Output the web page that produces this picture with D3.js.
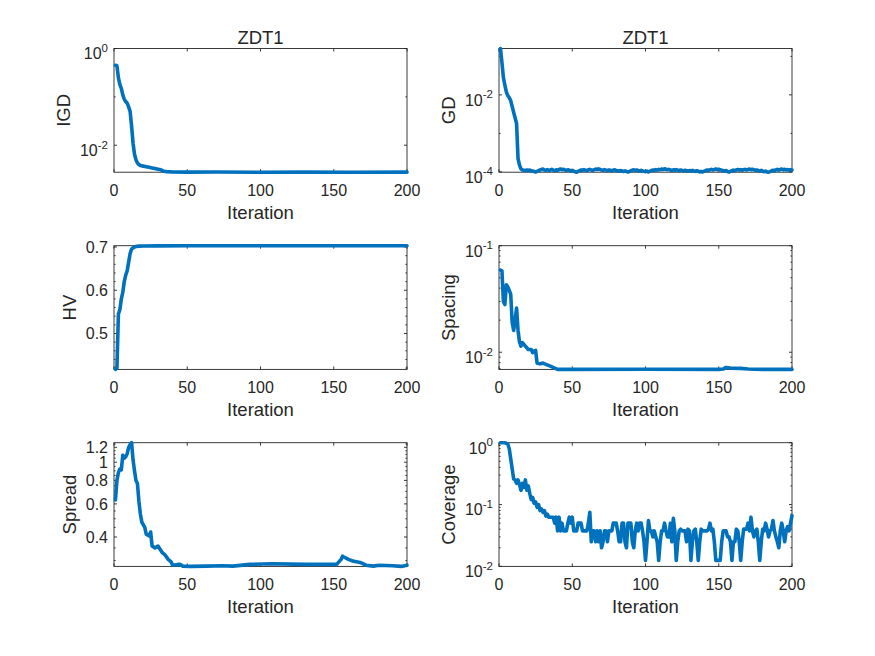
<!DOCTYPE html>
<html>
<head>
<meta charset="utf-8">
<script src="https://cdn.jsdelivr.net/npm/d3@7"></script>
<style>
body { margin: 0; background: #fff; }
text { font-family: "Liberation Sans", Arial, sans-serif; fill: #262626; }
</style>
</head>
<body>
<svg></svg>
<script>
// x axis (iterations)
var xTicks = [0, 50, 100, 150, 200];

// IGD
var igdX = [1, 2, 3, 4, 5, 6, 7, 8, 9, 10, 11, 12, 13, 14, 15, 16, 17, 18, 20, 22, 24, 26, 28, 30, 32, 34, 36, 40, 50, 70, 100, 130, 160, 200];
var igdY = [0.45, 0.44, 0.25, 0.18, 0.15, 0.11, 0.09, 0.08, 0.074, 0.062, 0.05, 0.025, 0.011, 0.0065, 0.005, 0.0043, 0.004, 0.0038, 0.0037, 0.0036, 0.0035, 0.0034, 0.0033, 0.0032, 0.0031, 0.0029, 0.00285, 0.0028, 0.00278, 0.00279, 0.00277, 0.00278, 0.00277, 0.00278];
var igdTicks = [1e-2, 1];
var igdMinor = [1e-1];

// GD, one value per iteration
var gdY = [0.16, 0.07, 0.028, 0.018, 0.012, 0.0095, 0.0085, 0.007, 0.005, 0.0035, 0.0025, 0.0018, 0.00022, 0.00015, 0.00012, 1.12e-4,
  1.10e-4, 1.08e-4, 1.12e-4, 1.09e-4, 1.11e-4, 1.07e-4, 1.05e-4, 1.02e-4, 0.99e-4, 1.03e-4,
  1.08e-4, 1.12e-4, 1.15e-4, 1.18e-4, 1.12e-4, 1.10e-4, 1.14e-4, 1.09e-4, 1.12e-4, 1.16e-4,
  1.11e-4, 1.08e-4, 1.13e-4, 1.10e-4, 1.15e-4, 1.19e-4, 1.14e-4, 1.17e-4, 1.12e-4, 1.09e-4,
  1.13e-4, 1.10e-4, 1.06e-4, 1.09e-4, 1.04e-4, 1.00e-4, 0.98e-4, 1.03e-4, 1.07e-4, 1.12e-4,
  1.10e-4, 1.14e-4, 1.11e-4, 1.08e-4, 1.13e-4, 1.16e-4, 1.12e-4, 1.09e-4, 1.14e-4, 1.18e-4,
  1.15e-4, 1.20e-4, 1.16e-4, 1.12e-4, 1.10e-4, 1.14e-4, 1.11e-4, 1.08e-4, 1.12e-4, 1.10e-4,
  1.06e-4, 1.10e-4, 1.13e-4, 1.09e-4, 1.07e-4, 1.04e-4, 1.08e-4, 1.05e-4, 1.02e-4, 1.06e-4,
  1.03e-4, 0.99e-4, 1.02e-4, 1.07e-4, 1.10e-4, 1.13e-4, 1.09e-4, 1.12e-4, 1.08e-4, 1.05e-4,
  1.09e-4, 1.06e-4, 1.03e-4, 1.01e-4, 1.05e-4, 0.99e-4, 1.04e-4, 1.08e-4, 1.12e-4, 1.10e-4,
  1.14e-4, 1.11e-4, 1.16e-4, 1.13e-4, 1.18e-4, 1.15e-4, 1.20e-4, 1.17e-4, 1.13e-4, 1.16e-4,
  1.12e-4, 1.09e-4, 1.13e-4, 1.10e-4, 1.14e-4, 1.11e-4, 1.08e-4, 1.12e-4, 1.09e-4, 1.06e-4,
  1.10e-4, 1.07e-4, 1.04e-4, 1.08e-4, 1.05e-4, 1.09e-4, 1.06e-4, 1.03e-4, 1.07e-4, 1.04e-4,
  1.00e-4, 1.03e-4, 0.99e-4, 1.04e-4, 1.08e-4, 1.12e-4, 1.09e-4, 1.13e-4, 1.16e-4, 1.12e-4,
  1.15e-4, 1.19e-4, 1.14e-4, 1.17e-4, 1.13e-4, 1.10e-4, 1.07e-4, 1.04e-4, 1.08e-4, 1.02e-4,
  0.99e-4, 1.03e-4, 1.07e-4, 1.11e-4, 1.08e-4, 1.12e-4, 1.15e-4, 1.11e-4, 1.14e-4, 1.10e-4,
  1.13e-4, 1.16e-4, 1.12e-4, 1.15e-4, 1.18e-4, 1.14e-4, 1.17e-4, 1.13e-4, 1.10e-4, 1.12e-4,
  1.08e-4, 1.05e-4, 1.09e-4, 1.04e-4, 1.01e-4, 1.05e-4, 0.99e-4, 0.98e-4, 1.02e-4, 1.06e-4,
  1.10e-4, 1.07e-4, 1.12e-4, 1.16e-4, 1.11e-4, 1.15e-4, 1.19e-4, 1.13e-4, 1.17e-4, 1.12e-4,
  1.15e-4, 1.10e-4, 1.14e-4, 1.12e-4];
var gdTicks = [1e-4, 1e-2];
var gdMinor = [1e-3, 1e-1];

// HV
var hvX = [1, 2, 3, 4, 5, 6, 7, 8, 9, 10, 11, 12, 13, 14, 15, 17, 20, 30, 50, 100, 150, 200];
var hvY = [0.417, 0.42, 0.545, 0.555, 0.58, 0.595, 0.62, 0.635, 0.645, 0.665, 0.685, 0.695, 0.698, 0.7, 0.701, 0.702, 0.7022, 0.7025, 0.7028, 0.703, 0.703, 0.703];
var hvTicks = [0.5, 0.6, 0.7];
var hvMinor = [0.42, 0.44, 0.46, 0.48, 0.52, 0.54, 0.56, 0.58, 0.62, 0.64, 0.66, 0.68];

// Spacing
var spacingX = [1, 2, 3, 4, 5, 6, 7, 8, 9, 10, 11, 12, 13, 14, 15, 16, 18, 20, 22, 23, 24, 25, 26, 28, 30, 32, 35, 38, 40, 50, 100, 150, 153, 155, 158, 165, 170, 180, 200];
var spacingY = [0.059, 0.058, 0.03, 0.028, 0.043, 0.041, 0.038, 0.035, 0.019, 0.016, 0.02, 0.026, 0.016, 0.0125, 0.0114, 0.0123, 0.0114, 0.0106, 0.0106, 0.0099, 0.0103, 0.0104, 0.0079, 0.0078, 0.0079, 0.0077, 0.0074, 0.0071, 0.0069, 0.0069, 0.00692, 0.0069, 0.00695, 0.0072, 0.0071, 0.00705, 0.00695, 0.0069, 0.0069];
var spacingTicks = [1e-2, 1e-1];
var spacingMinor = [0.007, 0.008, 0.009, 0.02, 0.03, 0.04, 0.05, 0.06, 0.07, 0.08, 0.09];

// Spread
var spreadX = [1, 2, 3, 4, 5, 6, 7, 8, 9, 10, 11, 12, 13, 14, 15, 16, 17, 18, 19, 21, 22, 24, 25, 26, 28, 30, 33, 35, 37, 39, 40, 43, 45, 47, 52, 63, 74, 81, 93, 108, 131, 152, 155, 156, 160, 163, 168, 172, 177, 181, 190, 196, 200];
var spreadY = [0.63, 0.8, 0.88, 0.92, 0.91, 1.09, 1.05, 1.07, 1.11, 1.2, 1.24, 1.27, 1.03, 0.9, 0.8, 0.77, 0.62, 0.53, 0.48, 0.45, 0.414, 0.405, 0.425, 0.358, 0.35, 0.358, 0.33, 0.32, 0.304, 0.295, 0.283, 0.285, 0.286, 0.28, 0.279, 0.28, 0.281, 0.28, 0.286, 0.288, 0.286, 0.286, 0.304, 0.316, 0.304, 0.298, 0.293, 0.283, 0.28, 0.283, 0.281, 0.279, 0.283];
var spreadTicks = [0.4, 0.6, 0.8, 1, 1.2];
var spreadMinor = [0.3, 0.35, 0.45, 0.5, 0.55, 0.65, 0.7, 0.75, 0.85, 0.9, 0.95, 1.05, 1.1, 1.15, 1.25];

// Coverage, one value per iteration
var coverageY = [1, 1, 1, 1, 0.975, 0.95, 0.8, 0.55, 0.38, 0.26,
  0.25, 0.22, 0.25, 0.21, 0.17, 0.22, 0.19, 0.25, 0.17, 0.2,
  0.15, 0.12, 0.13, 0.105, 0.11, 0.09, 0.1, 0.08, 0.085, 0.075,
  0.08, 0.065, 0.07, 0.0625, 0.0625, 0.0625, 0.0625, 0.05, 0.0625, 0.0375,
  0.0625, 0.0375, 0.05, 0.0375, 0.0375, 0.0375, 0.05, 0.0625, 0.05, 0.0625,
  0.0375, 0.0375, 0.0375, 0.05, 0.05, 0.05, 0.0375, 0.0375, 0.0375, 0.0375,
  0.05, 0.075, 0.025, 0.0375, 0.0375, 0.025, 0.0375, 0.025, 0.0375, 0.02,
  0.025, 0.0375, 0.0375, 0.025, 0.0375, 0.0375, 0.0375, 0.05, 0.05, 0.05,
  0.0375, 0.025, 0.025, 0.05, 0.05, 0.025, 0.02, 0.05, 0.05, 0.05,
  0.025, 0.02, 0.0375, 0.05, 0.0375, 0.05, 0.05, 0.0375, 0.025, 0.0125,
  0.025, 0.055, 0.0375, 0.0375, 0.03, 0.0375, 0.03, 0.025, 0.0125, 0.025,
  0.0375, 0.0375, 0.05, 0.0375, 0.03, 0.03, 0.05, 0.025, 0.06, 0.0375,
  0.0125, 0.025, 0.0375, 0.04, 0.0375, 0.0375, 0.0375, 0.025, 0.04, 0.0375,
  0.0125, 0.025, 0.0375, 0.04, 0.025, 0.0125, 0.025, 0.04, 0.0375, 0.0375,
  0.0375, 0.0375, 0.04, 0.05, 0.0375, 0.04, 0.025, 0.0125, 0.0125, 0.0125,
  0.0125, 0.025, 0.0375, 0.0375, 0.0375, 0.03, 0.03, 0.025, 0.0125, 0.025,
  0.025, 0.04, 0.0375, 0.025, 0.0125, 0.025, 0.04, 0.04, 0.04, 0.05,
  0.0375, 0.0625, 0.0375, 0.03, 0.0375, 0.04, 0.025, 0.0125, 0.025, 0.04,
  0.0375, 0.05, 0.04, 0.03, 0.0375, 0.04, 0.055, 0.0375, 0.03, 0.025,
  0.02, 0.0375, 0.05, 0.0375, 0.025, 0.0375, 0.044, 0.0375, 0.05, 0.066];
var coverageTicks = [1e-2, 1e-1, 1];
var coverageMinor = [0.02, 0.03, 0.04, 0.05, 0.06, 0.07, 0.08, 0.09, 0.2, 0.3, 0.4, 0.5, 0.6, 0.7, 0.8, 0.9];

function byIteration(values) {
    return values.map(function (v, i) { return [i + 1, v]; });
}
function zipXY(xs, ys) {
    return xs.map(function (x, i) { return [x, ys[i]]; });
}

var svgWidth = 875;
var svgHeight = 656;
var colLeft = [114, 499];
var rowTop = [48.5, 245.7, 442.7];
var plotW = 293;
var plotH = 123.7;
var lineColor = "#0072BD";
var axisColor = "#262626";

var svg = d3.select("svg")
    .attr("width", svgWidth)
    .attr("height", svgHeight);

var panels = [
    { col: 0, row: 0, title: "ZDT1", ylabel: "IGD", log: true, points: zipXY(igdX, igdY), ticks: igdTicks, minor: igdMinor, domain: [d3.min(igdY), 1] },
    { col: 1, row: 0, title: "ZDT1", ylabel: "GD", log: true, points: byIteration(gdY), ticks: gdTicks, minor: gdMinor },
    { col: 0, row: 1, ylabel: "HV", log: false, points: zipXY(hvX, hvY), ticks: hvTicks, minor: hvMinor },
    { col: 1, row: 1, ylabel: "Spacing", log: true, points: zipXY(spacingX, spacingY), ticks: spacingTicks, minor: spacingMinor, domain: [d3.min(spacingY), 0.1] },
    { col: 0, row: 2, ylabel: "Spread", log: true, points: zipXY(spreadX, spreadY), ticks: spreadTicks, minor: spreadMinor, plainLabels: true },
    { col: 1, row: 2, ylabel: "Coverage", log: true, points: byIteration(coverageY), ticks: coverageTicks, minor: coverageMinor, domain: [0.01, 1] }
];

panels.forEach(function (p) {
    var x0 = colLeft[p.col];
    var y0 = rowTop[p.row];
    var x1 = x0 + plotW;
    var y1 = y0 + plotH;

    var x = d3.scaleLinear().domain([0, 200]).range([x0, x1]);
    var dom = p.domain || d3.extent(p.points, function (d) { return d[1]; });
    var y = (p.log ? d3.scaleLog() : d3.scaleLinear()).domain(dom).range([y1, y0]);

    var g = svg.append("g");

    // box
    g.append("rect")
        .attr("x", x0).attr("y", y0)
        .attr("width", plotW).attr("height", plotH)
        .attr("fill", "none")
        .attr("stroke", axisColor)
        .attr("stroke-width", 0.9);

    // x ticks, bottom and top
    xTicks.forEach(function (t) {
        g.append("line").attr("x1", x(t)).attr("x2", x(t)).attr("y1", y1).attr("y2", y1 - 3)
            .attr("stroke", axisColor).attr("stroke-width", 0.9);
        g.append("line").attr("x1", x(t)).attr("x2", x(t)).attr("y1", y0).attr("y2", y0 + 3)
            .attr("stroke", axisColor).attr("stroke-width", 0.9);
        g.append("text")
            .attr("x", x(t)).attr("y", y1 + 24)
            .attr("text-anchor", "middle")
            .attr("font-size", 16)
            .text(t);
    });

    // y ticks, left and right
    function yTick(v, len) {
        g.append("line").attr("x1", x0).attr("x2", x0 + len).attr("y1", y(v)).attr("y2", y(v))
            .attr("stroke", axisColor).attr("stroke-width", 0.9);
        g.append("line").attr("x1", x1).attr("x2", x1 - len).attr("y1", y(v)).attr("y2", y(v))
            .attr("stroke", axisColor).attr("stroke-width", 0.9);
    }
    p.minor.forEach(function (v) { yTick(v, 1.6); });

    var labels = g.append("g");
    p.ticks.forEach(function (v) {
        yTick(v, 3);
        if (p.log && !p.plainLabels) {
            var t = labels.append("text")
                .attr("x", x0 - 6).attr("y", y(v) + 10.8)
                .attr("text-anchor", "end")
                .attr("font-size", 16);
            t.append("tspan").text("10");
            t.append("tspan").attr("font-size", 11.5).attr("dy", -7.5)
                .text(Math.round(Math.log10(v)));
        } else {
            labels.append("text")
                .attr("x", x0 - 6).attr("y", y(v))
                .attr("dy", "0.35em")
                .attr("text-anchor", "end")
                .attr("font-size", 16)
                .text(v);
        }
    });

    // data line
    g.append("path")
        .datum(p.points)
        .attr("fill", "none")
        .attr("stroke", lineColor)
        .attr("stroke-width", 3.6)
        .attr("stroke-linejoin", "round")
        .attr("stroke-linecap", "round")
        .attr("d", d3.line()
            .x(function (d) { return x(d[0]); })
            .y(function (d) { return y(d[1]); }));

    // labels
    g.append("text")
        .attr("x", (x0 + x1) / 2).attr("y", y1 + 47)
        .attr("text-anchor", "middle")
        .attr("font-size", 18.5)
        .text("Iteration");

    var lb = labels.node().getBBox();
    var ly = (y0 + y1) / 2;
    var lx = lb.x - 10;
    g.append("text")
        .attr("transform", "translate(" + lx + "," + ly + ") rotate(-90)")
        .attr("text-anchor", "middle")
        .attr("font-size", 18.5)
        .text(p.ylabel);

    if (p.title) {
        g.append("text")
            .attr("x", (x0 + x1) / 2).attr("y", y0 - 5)
            .attr("text-anchor", "middle")
            .attr("font-size", 18.5)
            .text(p.title);
    }
});
</script>
</body>
</html>
